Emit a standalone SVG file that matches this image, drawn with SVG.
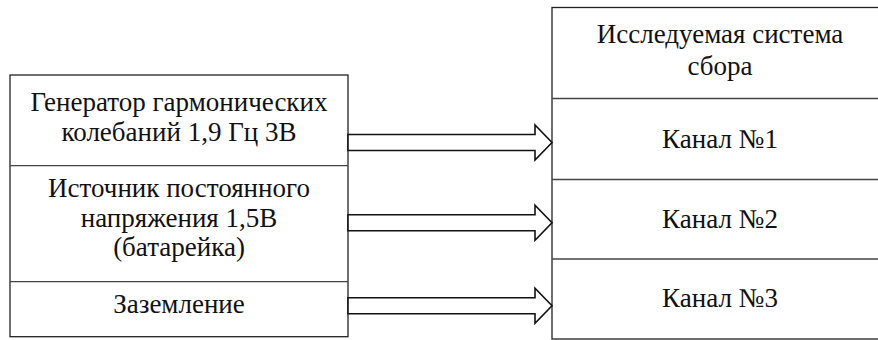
<svg xmlns="http://www.w3.org/2000/svg" xmlns:xlink="http://www.w3.org/1999/xlink" width="878" height="340" viewBox="0 0 878 340">
<style>
.box{fill:#fff;stroke:#222;stroke-width:1.3}
.div{stroke:#444;stroke-width:1.3}
.t{font-size:27px;fill:#111;text-anchor:middle}
.arr{fill:#fff;stroke:#111;stroke-width:1.6;stroke-linejoin:miter}
</style>
<defs>
<path id="blockArrow" d="M0 -8 H187 V-17.5 L204 0 L187 17.5 V8 H0 Z"/>
</defs>
<rect width="878" height="340" fill="#fff"/>
<g font-family="Liberation Serif, Times New Roman, Times, Tinos, Noto Serif, DejaVu Serif, FreeSerif, serif">
<g id="sources">
<rect class="box" x="10" y="75" width="338" height="261.7"/>
<line class="div" x1="10" y1="165.7" x2="348" y2="165.7"/>
<line class="div" x1="10" y1="281.7" x2="348" y2="281.7"/>
</g>
<g id="node-generator">
<text class="t" x="179" y="111">Генератор гармонических</text>
<text class="t" x="179" y="141">колебаний 1,9 Гц 3В</text>
</g>
<g id="node-dc-source">
<text class="t" x="179" y="197">Источник постоянного</text>
<text class="t" x="179" y="227">напряжения 1,5В</text>
<text class="t" x="179" y="256">(батарейка)</text>
</g>
<g id="node-ground">
<text class="t" x="179" y="313">Заземление</text>
</g>
<g id="system">
<rect class="box" x="552" y="7.5" width="340" height="331.5"/>
<line class="div" x1="552" y1="98.5" x2="880" y2="98.5"/>
<line class="div" x1="552" y1="179.5" x2="880" y2="179.5"/>
<line class="div" x1="552" y1="259" x2="880" y2="259"/>
</g>
<g id="node-system-title">
<text class="t" x="720" y="43">Исследуемая система</text>
<text class="t" x="720" y="75">сбора</text>
</g>
<g id="node-channel1"><text class="t" x="720" y="148">Канал №1</text></g>
<g id="node-channel2"><text class="t" x="720" y="228">Канал №2</text></g>
<g id="node-channel3"><text class="t" x="720" y="307">Канал №3</text></g>
</g>
<g id="connectors">
<use href="#blockArrow" xlink:href="#blockArrow" class="arr" x="348" y="142.5"/>
<use href="#blockArrow" xlink:href="#blockArrow" class="arr" x="348" y="222.7"/>
<use href="#blockArrow" xlink:href="#blockArrow" class="arr" x="348" y="305.7"/>
</g>
</svg>
